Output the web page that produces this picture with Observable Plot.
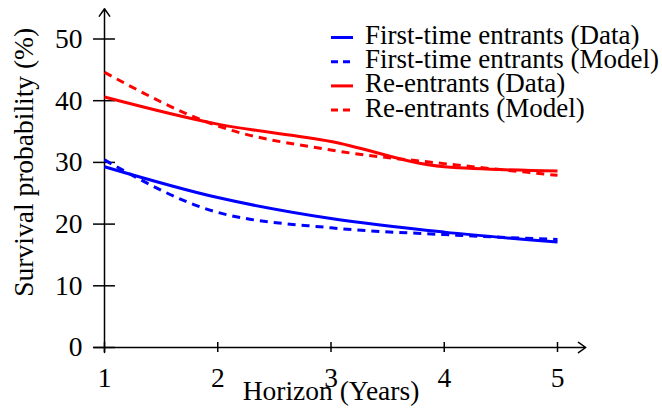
<!DOCTYPE html>
<html>
<head>
<meta charset="utf-8">
<script src="https://cdn.jsdelivr.net/npm/d3@7"></script>
<script src="https://cdn.jsdelivr.net/npm/@observablehq/plot@0.6"></script>
<style>
  html, body { margin: 0; padding: 0; background: #fff; }
  #chart { position: relative; width: 662px; height: 413px; }
  svg { font-family: "Liberation Serif", serif; }
</style>
</head>
<body>
<div id="chart"></div>
<script>
// ---- data ----
const horizon = [1, 2, 3, 4, 5];
const firstData = [29.3, 24.3, 20.9, 18.7, 17.1];
const firstModel = [30.4, 21.9, 19.4, 18.3, 17.5];
const reData = [40.6, 36.2, 33.4, 29.3, 28.6];
const reModel = [44.6, 35.9, 32.0, 29.8, 27.9];
const xTicks = [1, 2, 3, 4, 5];
const yTicks = [0, 10, 20, 30, 40, 50];
const seriesNames = [
  "First-time entrants (Data)",
  "First-time entrants (Model)",
  "Re-entrants (Data)",
  "Re-entrants (Model)"
];
const seriesColors = ["#0000ff", "#0000ff", "#ff0000", "#ff0000"];
const seriesDashed = [false, true, false, true];
const seriesValues = [firstData, firstModel, reData, reModel];

const rows = [];
seriesValues.forEach((vals, s) => {
  vals.forEach((v, i) => rows.push({series: seriesNames[s], x: horizon[i], y: v}));
});

const font = 27.5;
const legendFont = 27;
const lineMarks = seriesNames.map((name, s) =>
  Plot.line(rows.filter(d => d.series === name), {
    x: "x", y: "y",
    stroke: seriesColors[s],
    strokeWidth: 3,
    strokeDasharray: seriesDashed[s] ? "8,6" : null,
    strokeLinecap: "butt",
    curve: "monotone-x"
  })
);

const chart = Plot.plot({
  width: 662,
  height: 413,
  marginLeft: 104,
  marginRight: 105,
  marginTop: 38.5,
  marginBottom: 66,
  style: {fontFamily: "Liberation Serif, serif", fontSize: font + "px", color: "#000", background: "#fff"},
  x: {domain: [1, 5], axis: null},
  y: {domain: [0, 50], axis: null},
  marks: [
    // axis lines with arrows
    Plot.arrow([0], {x1: 0.905, x2: 5.25, y1: 0, y2: 0, stroke: "#000", strokeWidth: 1.5, headLength: 9, headAngle: 70}),
    Plot.arrow([0], {x1: 1, x2: 1, y1: -0.8, y2: 54.9, stroke: "#000", strokeWidth: 1.5, headLength: 9, headAngle: 70}),
    // ticks (both sides of the axis)
    Plot.axisY(yTicks, {anchor: "left", label: null, tickSize: 11, tickPadding: 11, stroke: "#000", strokeWidth: 1.5, fontSize: font, tickFormat: d => String(d)}),
    Plot.axisY(yTicks, {anchor: "left", label: null, tickSize: -11, fill: "none", stroke: "#000", strokeWidth: 1.5}),
    Plot.axisX(xTicks, {anchor: "bottom", label: null, tickSize: 5, tickPadding: 15, stroke: "#000", strokeWidth: 1.5, fontSize: font, tickFormat: d => String(d)}),
    Plot.axisX(xTicks, {anchor: "bottom", label: null, tickSize: -5, fill: "none", stroke: "#000", strokeWidth: 1.5}),
    // data lines
    ...lineMarks,
    // axis titles
    Plot.text(["Horizon (Years)"], {frameAnchor: "bottom", textAnchor: "middle", dy: 52.5, text: d => d, fontSize: font, fill: "#000"}),
    Plot.text(["Survival probability (%)"], {frameAnchor: "left", textAnchor: "middle", dx: -80, dy: -31, rotate: -90, text: d => d, fontSize: font, fill: "#000"})
  ]
});

// legend
const svg = d3.select(chart);
const leg = svg.append("g").attr("class", "legend").attr("text-anchor", "start");
const baseY = 44, step = 24.2;
seriesNames.forEach((name, s) => {
  const yb = baseY + s * step;
  leg.append("line")
    .attr("x1", 331).attr("x2", 353)
    .attr("y1", yb - 6.5).attr("y2", yb - 6.5)
    .attr("stroke", seriesColors[s])
    .attr("stroke-width", 3)
    .attr("stroke-dasharray", seriesDashed[s] ? "7,5" : null);
  leg.append("text")
    .attr("x", 365).attr("y", yb)
    .attr("font-size", legendFont)
    .attr("text-anchor", "start")
    .attr("fill", "#000")
    .text(name);
});

document.getElementById("chart").appendChild(chart);
</script>
</body>
</html>
